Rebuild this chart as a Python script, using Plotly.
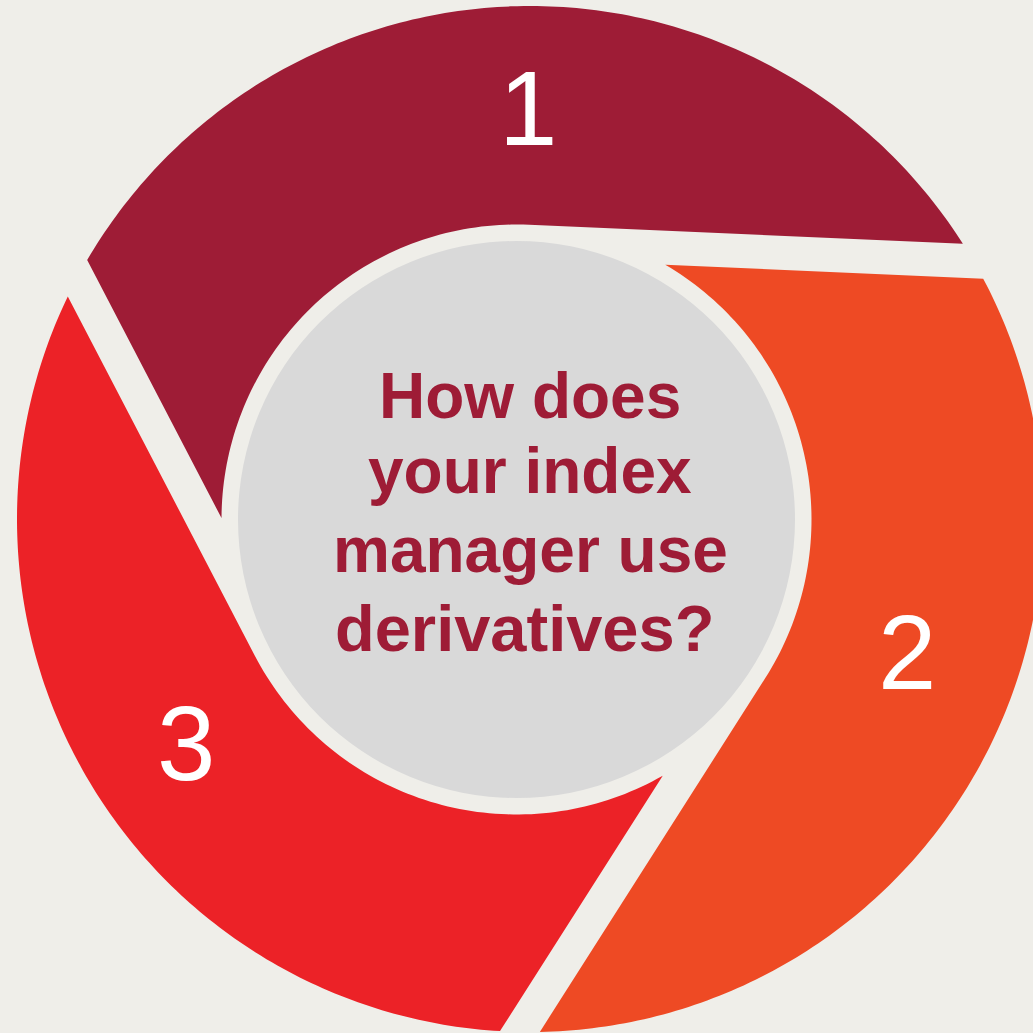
import numpy as np
import plotly.graph_objects as go

# ---- data ----
segment_labels = ["1", "2", "3"]
segment_shares = [1, 1, 1]
segment_colors = ["#9E1C36", "#EE4A24", "#EC2227"]
center_lines = ["How does", "your index", "manager use", "derivatives?"]

BG = "#EFEEE9"
GREY = "#D9D9D9"
TEXT_RED = "#9E1C36"

# ---- geometry (screen pixels) ----
W = 1033
O = np.array([516.5, 519.5])      # inner circle centre
Oc = np.array([530.0, 519.0])     # outer circle centre
R_OUT = 513.0
R_IN = 295.0
R_GREY = 278.5
GAP = 34.0
START = 87.5  # tangent angle of first segment (deg, math convention)


def n(a):
    a = np.radians(a)
    return np.array([np.cos(a), np.sin(a)])


def u(a):
    a = np.radians(a)
    return np.array([np.sin(a), -np.cos(a)])


def abs_math(P):
    return P + O * np.array([1, -1])


def hit_outer(P, d):
    Pm = abs_math(P)
    Ocm = Oc * np.array([1, -1])
    p = Pm - Ocm
    b = p @ d
    c = p @ p - R_OUT ** 2
    s = -b + np.sqrt(b * b - c)
    return Pm + s * d


total = sum(segment_shares)
spans = [360.0 * s / total for s in segment_shares]
alphas = []
a = START
for sp in spans:
    alphas.append(a)
    a -= sp

fig = go.Figure()
shapes = []
for k, (lab, col) in enumerate(zip(segment_labels, segment_colors)):
    al = alphas[k]
    gam = al + spans[k]
    beta = gam - np.degrees(np.arccos((R_IN - GAP) / R_IN))
    T = R_IN * n(al)
    D = R_IN * n(beta)
    B = hit_outer(T, u(al))
    A = hit_outer(D, u(gam))
    pts = []
    for th in np.linspace(al, beta, 80):
        pts.append(abs_math(R_IN * n(th)))
    Ocm = Oc * np.array([1, -1])
    angA = np.degrees(np.arctan2((A - Ocm)[1], (A - Ocm)[0]))
    angB = np.degrees(np.arctan2((B - Ocm)[1], (B - Ocm)[0]))
    while angA < angB:
        angA += 360
    for th in np.linspace(angA, angB, 160):
        pts.append(Ocm + R_OUT * n(th))
    pts = [np.array([p[0], -p[1]]) for p in pts]
    path = "M " + " L ".join(f"{p[0]:.2f},{p[1]:.2f}" for p in pts) + " Z"
    shapes.append(dict(type="path", path=path, xref="x", yref="y",
                       fillcolor=col, line=dict(width=0), layer="below"))

shapes.append(dict(type="circle", xref="x", yref="y",
                   x0=O[0] - R_GREY, x1=O[0] + R_GREY,
                   y0=O[1] - R_GREY, y1=O[1] + R_GREY,
                   fillcolor=GREY, line=dict(width=0), layer="below"))

num_pos = [(528, 110), (907, 654), (186, 745)]
annotations = []
for lab, (x, y) in zip(segment_labels, num_pos):
    annotations.append(dict(x=x, y=y - 2, text=lab, showarrow=False,
                            xref="x", yref="y", xanchor="center", yanchor="middle",
                            font=dict(family="Liberation Sans, Arial", size=105, color="white")))

baselines = [415, 490, 569, 647]
line_x = [530, 530, 530, 524]
line_size = [64, 64, 64, 65]
for line, bl, lx, ls in zip(center_lines, baselines, line_x, line_size):
    annotations.append(dict(x=lx, y=bl - 19, text=f"<b>{line}</b>", showarrow=False,
                            xref="x", yref="y", xanchor="center", yanchor="middle",
                            font=dict(family="Liberation Sans, Arial", size=ls, color=TEXT_RED)))

fig.update_layout(
    width=W, height=W,
    margin=dict(l=0, r=0, t=0, b=0),
    paper_bgcolor=BG, plot_bgcolor=BG,
    xaxis=dict(range=[0, W], visible=False, fixedrange=True),
    yaxis=dict(range=[W, 0], visible=False, fixedrange=True),
    shapes=shapes, annotations=annotations, showlegend=False,
)
fig.write_html("out.html", config=dict(displayModeBar=False))
